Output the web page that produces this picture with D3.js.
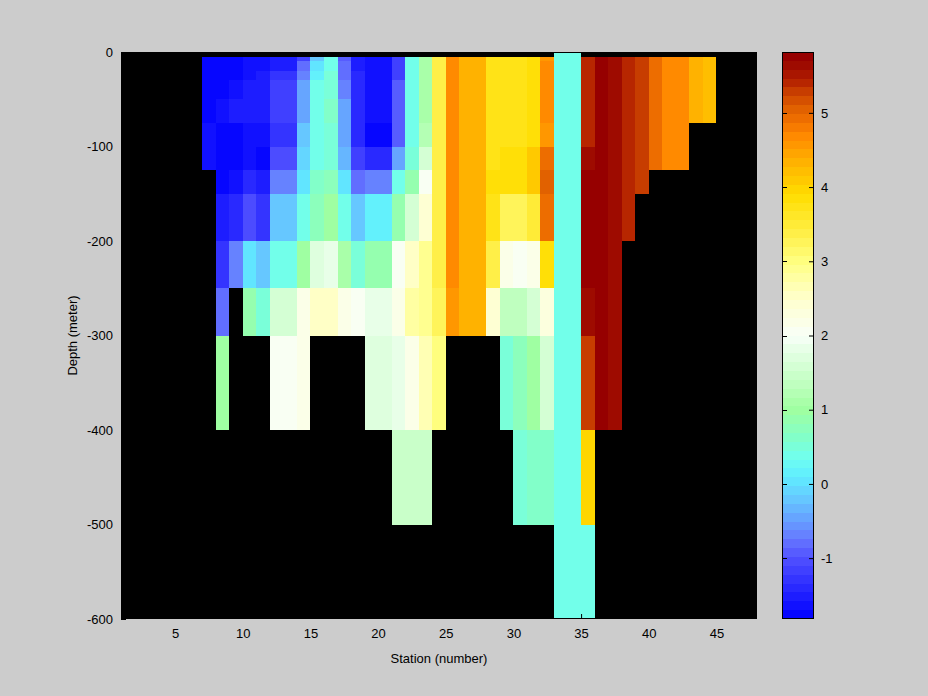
<!DOCTYPE html>
<html><head><meta charset="utf-8">
<script src="https://cdn.jsdelivr.net/npm/d3@7"></script>
<style>
body{margin:0;background:#cccccc}
svg{display:block}
text{font-family:"Liberation Sans",Arial,Helvetica,sans-serif;font-size:13px;fill:#000}
</style>
</head><body>
<svg id="chart" width="928" height="696"></svg>
<script>
// ---- data ----
const stations = [7,8,9,10,11,12,13,14,15,16,17,18,19,20,21,22,23,24,25,26,27,28,29,30,31,32,33,34,35,36,37,38,39,40,41,42,43,44];
const depthEdges = [0,5,10,20,30,50,75,100,125,150,200,250,300,400,500,600];
const N = null;
// one profile per station, values for each depth layer (top edge 0,5,10,20,30,50,75,100,125,150,200,250,300,400,500)
const profiles = [
  [N,-1.8,-1.8,-1.8,-1.8,-1.8,-1.6,-1.6,N,N,N,N,N,N,N],
  [N,-1.8,-1.8,-1.8,-1.8,-1.65,-1.8,-1.8,-1.8,-1.55,-1.3,-0.75,1.0,N,N],
  [N,-1.8,-1.8,-1.8,-1.65,-1.55,-1.8,-1.8,-1.65,-1.4,-0.65,N,N,N,N],
  [N,-1.7,-1.7,-1.65,-1.5,-1.5,-1.65,-1.65,-1.45,-1.1,0.05,0.85,N,N,N],
  [N,-1.65,-1.65,-1.5,-1.5,-1.5,-1.65,-1.8,-1.55,-1.3,-0.2,0.5,N,N,N],
  [N,-1.5,-1.5,-1.25,-1.15,-1.15,-1.25,-1.1,-0.65,-0.2,0.4,1.55,2.0,N,N],
  [N,-1.5,-1.5,-1.25,-1.15,-1.15,-1.25,-1.1,-0.65,-0.2,0.4,1.55,2.0,N,N],
  [N,-1.15,-0.85,-0.65,-0.45,-0.45,-0.2,-0.1,0.05,0.35,1.0,2.15,2.15,N,N],
  [N,-0.2,0.05,0.2,0.35,0.35,0.4,0.4,0.6,0.8,1.7,2.5,N,N,N],
  [N,0.35,0.35,0.5,0.55,0.65,0.55,0.55,0.8,1.0,1.85,2.5,N,N,N],
  [N,-0.95,-0.85,-0.75,-0.65,-0.45,-0.45,-0.35,0.05,0.4,1.1,2.15,N,N,N],
  [N,-1.5,-1.5,-1.4,-1.4,-1.4,-1.4,-1.15,-0.75,-0.2,0.55,2.0,N,N,N],
  [N,-1.65,-1.65,-1.65,-1.65,-1.65,-1.8,-1.4,-0.65,0.1,0.9,1.85,1.7,N,N],
  [N,-1.65,-1.65,-1.65,-1.65,-1.65,-1.8,-1.4,-0.65,0.1,0.9,1.85,1.7,N,N],
  [N,-1.15,-1.15,-1.15,-0.95,-0.95,-0.95,-0.45,0.35,0.85,2.0,2.15,1.85,1.45,N],
  [N,0.35,0.35,0.35,0.35,0.35,0.4,0.5,0.85,1.55,2.5,2.75,2.15,1.45,N],
  [N,1.1,1.1,1.1,1.1,1.1,1.2,1.55,2.0,2.45,2.9,2.9,2.6,1.45,N],
  [N,3.35,3.35,3.35,3.35,3.35,3.35,3.35,3.4,3.4,3.4,3.25,3.0,N,N],
  [N,4.7,4.7,4.7,4.7,4.7,4.7,4.7,4.7,4.7,4.7,4.55,N,N,N],
  [N,4.35,4.35,4.35,4.35,4.35,4.35,4.35,4.35,4.35,4.35,4.35,N,N,N],
  [N,4.35,4.35,4.35,4.35,4.35,4.35,4.35,4.35,4.35,4.35,4.35,N,N,N],
  [N,3.75,3.75,3.75,3.75,3.75,3.75,3.75,3.9,3.75,3.4,2.45,N,N,N],
  [N,3.75,3.75,3.75,3.75,3.75,3.75,3.9,3.85,3.25,2.2,1.3,0.55,N,N],
  [N,3.75,3.75,3.75,3.75,3.75,3.75,3.9,3.85,3.25,2.0,1.3,0.8,0.5,N],
  [N,3.9,3.9,3.9,3.9,3.9,3.9,4.1,4.05,3.45,2.15,1.55,1.0,0.6,N],
  [N,4.55,4.7,4.7,4.7,4.7,4.55,4.9,5.05,4.9,3.8,2.35,1.55,0.6,N],
  [0.35,0.35,0.35,0.35,0.35,0.35,0.35,0.35,0.35,0.35,0.35,0.35,0.35,0.35,0.35],
  [0.35,0.35,0.35,0.35,0.35,0.35,0.35,0.35,0.35,0.35,0.35,0.35,0.35,0.35,0.35],
  [N,5.45,5.45,5.45,5.45,5.45,5.45,5.62,5.8,5.8,5.8,5.62,5.25,4.0,0.35],
  [N,5.8,5.8,5.8,5.8,5.8,5.8,5.8,5.8,5.8,5.8,5.8,5.8,N,N],
  [N,5.62,5.62,5.62,5.62,5.62,5.62,5.62,5.62,5.62,5.62,5.62,5.62,N,N],
  [N,5.35,5.35,5.45,5.45,5.45,5.45,5.45,5.45,5.45,N,N,N,N,N],
  [N,5.25,5.25,5.25,5.25,5.25,5.25,5.25,5.25,N,N,N,N,N,N],
  [N,4.9,4.9,4.9,4.9,4.9,4.9,4.9,N,N,N,N,N,N,N],
  [N,4.7,4.7,4.7,4.7,4.7,4.7,4.7,N,N,N,N,N,N,N],
  [N,4.7,4.7,4.7,4.7,4.7,4.7,4.7,N,N,N,N,N,N,N],
  [N,4.35,4.35,4.35,4.35,4.35,N,N,N,N,N,N,N,N,N],
  [N,4.15,4.15,4.15,4.15,4.15,N,N,N,N,N,N,N,N,N]
];
const xTicks = [5,10,15,20,25,30,35,40,45];
const yTicks = [0,-100,-200,-300,-400,-500,-600];
const cbTicks = [-1,0,1,2,3,4,5];
const colorStops  = [-1.82,-1.0,-0.75,-0.65,-0.2,0.1,0.35,0.6,1.0,1.45,2.0,2.5,3.0,3.4,3.9,4.1,4.35,4.7,4.9,5.05,5.25,5.45,5.62,5.72];
const colorValues = ["#0000ff","#5050ff","#6677ff","#6688ff","#66c8ff","#60eeff","#6ffff0","#80ffcc","#a0ffa0","#c8ffc8","#f8fff8","#ffffcc","#ffff80","#ffee44","#ffdd00","#ffc800","#ffb000","#ff8800","#f07000","#e06000","#cc4400","#b01c00","#a00e00","#960000"];
const cRange = [-1.82, 5.82];
const nLevels = 64;

// ---- drawing ----
const svg = d3.select("#chart");
const W = 928, H = 696;
const plot = {l:121, r:757, t:52, b:619};
const cb = {l:782, r:814, t:52, b:619};
const plainFmt = d => String(d);   // hyphen-minus, as in the original

const x = d3.scaleLinear().domain([1,48]).range([plot.l, plot.r]);
const y = d3.scaleLinear().domain([-600,0]).range([plot.b, plot.t]);
const cy = d3.scaleLinear().domain(cRange).range([cb.b, cb.t]);

const cmap = d3.scaleLinear().domain(colorStops).range(colorValues).interpolate(d3.interpolateRgb).clamp(true);
const step = (cRange[1]-cRange[0])/nLevels;
const levelColor = v => {
  let k = Math.floor((v - cRange[0]) / step);
  k = Math.max(0, Math.min(nLevels-1, k));
  return cmap(cRange[0] + (k+0.5)*step);
};

svg.append("rect").attr("width", W).attr("height", H).attr("fill", "#cccccc");
svg.append("rect").attr("x", plot.l).attr("y", plot.t)
  .attr("width", plot.r-plot.l).attr("height", plot.b-plot.t).attr("fill", "#000");

const cells = [];
stations.forEach((s, j) => {
  profiles[j].forEach((v, i) => {
    if (v !== null) cells.push({s, top: depthEdges[i], bot: depthEdges[i+1], v});
  });
});
svg.append("g").attr("shape-rendering","crispEdges")
  .selectAll("rect").data(cells).join("rect")
  .attr("x", d => x(d.s))
  .attr("y", d => y(-d.top))
  .attr("width", d => x(d.s+1) - x(d.s))
  .attr("height", d => y(-d.bot) - y(-d.top))
  .attr("fill", d => levelColor(d.v));

// axes
const xAxis = d3.axisBottom(x).tickValues(xTicks).tickFormat(plainFmt).tickSizeInner(-5).tickSizeOuter(0).tickPadding(10);
const gx = svg.append("g").attr("transform", `translate(0,${plot.b})`).call(xAxis);
const yAxis = d3.axisLeft(y).tickValues(yTicks).tickFormat(plainFmt).tickSizeInner(-5).tickSizeOuter(0).tickPadding(8);
const gy = svg.append("g").attr("transform", `translate(${plot.l},0)`).call(yAxis);
[gx, gy].forEach(g => {
  g.selectAll("text").attr("font-family", null).attr("font-size", null).attr("fill","#000");
  g.selectAll("line").attr("stroke", "#000");
  g.select(".domain").remove();
});
svg.append("rect").attr("x", plot.l+0.5).attr("y", plot.t+0.5)
  .attr("width", plot.r-plot.l-1).attr("height", plot.b-plot.t-1)
  .attr("fill","none").attr("stroke","#000");

svg.append("text").attr("x", (plot.l+plot.r)/2).attr("y", 663)
  .attr("text-anchor","middle").text("Station (number)");
svg.append("text").attr("transform", `translate(77,${(plot.t+plot.b)/2}) rotate(-90)`)
  .attr("text-anchor","middle").text("Depth (meter)");

// colorbar
const bands = d3.range(nLevels).map(k => ({lo: cRange[0] + k*step, hi: cRange[0] + (k+1)*step}));
svg.append("g").attr("shape-rendering","crispEdges")
  .selectAll("rect").data(bands).join("rect")
  .attr("x", cb.l).attr("width", cb.r-cb.l)
  .attr("y", d => cy(d.hi)).attr("height", d => cy(d.lo) - cy(d.hi))
  .attr("fill", d => levelColor((d.lo+d.hi)/2));
svg.append("rect").attr("x", cb.l+0.5).attr("y", cb.t+0.5)
  .attr("width", cb.r-cb.l-1).attr("height", cb.b-cb.t-1)
  .attr("fill","none").attr("stroke","#000");
const cbAxis = d3.axisRight(cy).tickValues(cbTicks).tickSizeInner(-5).tickSizeOuter(0).tickPadding(7).tickFormat(plainFmt);
const gc = svg.append("g").attr("transform", `translate(${cb.r},0)`).call(cbAxis);
gc.selectAll("text").attr("font-family", null).attr("font-size", null).attr("fill","#000");
gc.selectAll("line").attr("stroke","#000");
gc.select(".domain").remove();
svg.append("g").selectAll("line").data(cbTicks).join("line")
  .attr("x1", cb.l).attr("x2", cb.l+5)
  .attr("y1", d => Math.round(cy(d))+0.5).attr("y2", d => Math.round(cy(d))+0.5)
  .attr("stroke","#000");
</script>
</body></html>
